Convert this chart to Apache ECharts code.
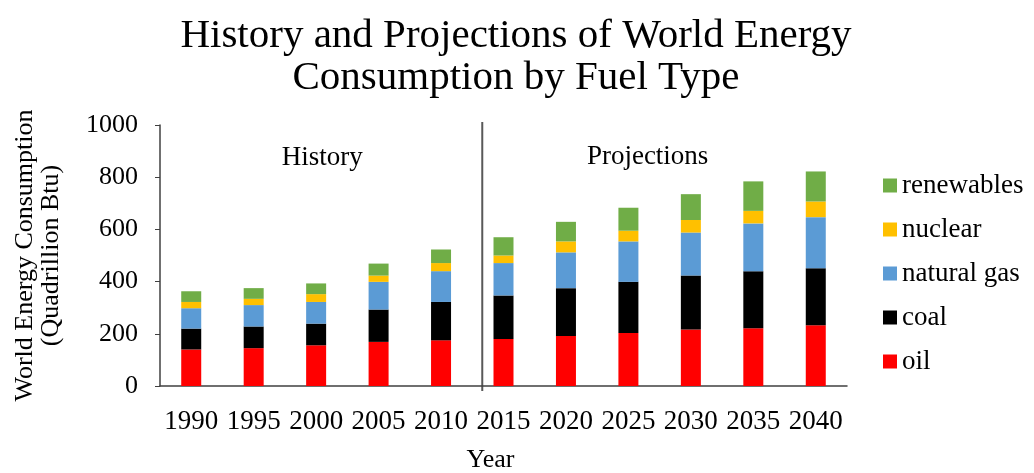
<!DOCTYPE html>
<html>
<head>
<meta charset="utf-8">
<script src="https://cdn.jsdelivr.net/npm/echarts@6/dist/echarts.min.js"></script>
<style>
  html, body { margin: 0; padding: 0; background: #fff; }
  #chart { width: 1034px; height: 473px; }
</style>
</head>
<body>
<div id="chart"></div>
<script>
// World energy consumption by fuel, quadrillion Btu
const years = ['1990', '1995', '2000', '2005', '2010', '2015', '2020', '2025', '2030', '2035', '2040'];
const oil        = [140, 145, 156, 169, 175, 180, 192, 203, 216, 221, 233];
const coal       = [ 80,  83,  83, 124, 147, 167, 183, 196, 207, 219, 218];
const naturalGas = [ 78,  82,  83, 106, 118, 124, 137, 155, 165, 183, 196];
const nuclear    = [ 24,  24,  30,  24,  31,  29,  42,  41,  48,  48,  60];
const renewables = [ 41,  41,  41,  46,  52,  70,  75,  88,  99, 113, 115];
const yTicks = [0, 200, 400, 600, 800, 1000];

const serif = '"Liberation Serif", "Times New Roman", serif';
const chart = echarts.init(document.getElementById('chart'));

function bar(name, data, color) {
  return {
    name: name, type: 'bar', stack: 'total', data: data,
    barWidth: 20, itemStyle: { color: color }
  };
}

chart.setOption({
  animation: false,
  backgroundColor: '#fff',
  title: {
    text: 'History and Projections of World Energy\nConsumption by Fuel Type',
    left: 511, textAlign: 'center', top: 10,
    textStyle: { fontFamily: serif, fontWeight: 'normal', fontSize: 41, lineHeight: 42, color: '#000' }
  },
  legend: {
    orient: 'vertical', left: 878, top: 167,
    itemWidth: 14, itemHeight: 14, itemGap: 17,
    icon: 'rect',
    data: ['renewables', 'nuclear', 'natural gas', 'coal', 'oil'],
    textStyle: { fontFamily: serif, fontSize: 27, lineHeight: 26, color: '#000', padding: [0, 0, 0, 0] }
  },
  grid: { left: 160, right: 187, top: 125, bottom: 87, outerBoundsMode: 'none', containLabel: false },
  xAxis: {
    type: 'category', data: years,
    name: 'Year', nameLocation: 'middle', nameGap: 61,
    nameTextStyle: { fontFamily: serif, fontSize: 26, color: '#000', padding: [0, 26, 0, 0] },
    axisLine: { lineStyle: { color: '#404040', width: 1.5 } },
    axisTick: { show: false },
    axisLabel: { fontFamily: serif, fontSize: 27, color: '#000', margin: 22, interval: 0 }
  },
  yAxis: {
    type: 'value', min: yTicks[0], max: yTicks[yTicks.length - 1], interval: 200,
    name: 'World Energy Consumption\n(Quadrillion Btu)', nameLocation: 'middle', nameGap: 96,
    nameTextStyle: { fontFamily: serif, fontSize: 26, lineHeight: 26, color: '#000' },
    axisLine: { show: true, lineStyle: { color: '#404040', width: 1.5 } },
    axisTick: { show: true, length: 5, lineStyle: { color: '#404040' } },
    splitLine: { show: false },
    axisLabel: { fontFamily: serif, fontSize: 26, color: '#000', margin: 22,
      formatter: function (v) { return String(v); } }
  },
  series: [
    bar('oil', oil, '#ff0000'),
    bar('coal', coal, '#000000'),
    bar('natural gas', naturalGas, '#5b9bd5'),
    bar('nuclear', nuclear, '#ffc000'),
    bar('renewables', renewables, '#70ad47')
  ]
});

// Divider between historical and projected years, plus section captions
function placeAnnotations() {
  const c2010 = chart.convertToPixel({ xAxisIndex: 0 }, '2010');
  const c2015 = chart.convertToPixel({ xAxisIndex: 0 }, '2015');
  const divX = c2010 + (c2015 - c2010) * 0.66;
  const top = chart.convertToPixel({ yAxisIndex: 0 }, 1000);
  const base = chart.convertToPixel({ yAxisIndex: 0 }, 0);
  const cHist = chart.convertToPixel({ xAxisIndex: 0 }, '2000');
  const cProj = (chart.convertToPixel({ xAxisIndex: 0 }, '2025') + chart.convertToPixel({ xAxisIndex: 0 }, '2030')) / 2;
  chart.setOption({
    graphic: [
      { type: 'line', shape: { x1: divX, y1: top - 3, x2: divX, y2: base + 5 },
        style: { stroke: '#595959', lineWidth: 2 } },
      { type: 'text', x: cHist + 6, y: top + 33, style: { text: 'History', fontFamily: serif, fontSize: 27,
        fill: '#000', align: 'center', verticalAlign: 'middle' } },
      { type: 'text', x: cProj - 12, y: top + 32, style: { text: 'Projections', fontFamily: serif, fontSize: 27,
        fill: '#000', align: 'center', verticalAlign: 'middle' } }
    ]
  });
}
placeAnnotations();
</script>
</body>
</html>
